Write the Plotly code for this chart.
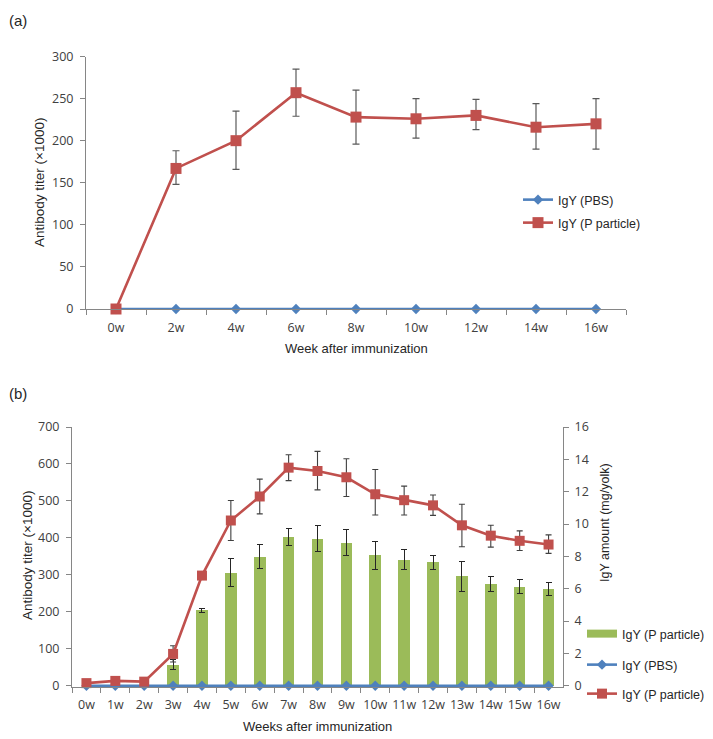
import plotly.graph_objects as go

# ---------------- Panel (a) data ----------------
weeks_a = ["0w", "2w", "4w", "6w", "8w", "10w", "12w", "14w", "16w"]
pbs_a = [0, 0, 0, 0, 0, 0, 0, 0, 0]
titer_a = [0, 167, 200, 257, 228, 226, 230, 216, 220]
titer_a_hi = [None, 188, 235, 285, 260, 250, 249, 244, 250]
titer_a_lo = [None, 148, 166, 229, 196, 203, 213, 190, 190]

# ---------------- Panel (b) data ----------------
weeks_b = ["0w", "1w", "2w", "3w", "4w", "5w", "6w", "7w", "8w", "9w",
           "10w", "11w", "12w", "13w", "14w", "15w", "16w"]
pbs_b = [0, 0, 0, 0, 0, 0, 0, 0, 0, 0, 0, 0, 0, 0, 0, 0, 0]
titer_b = [7, 13, 11, 86, 298, 447, 512, 590, 581, 564, 518, 502, 488, 434, 406, 392, 382]
titer_b_hi = [None, None, None, 108, 306, 501, 559, 625, 634, 614, 585, 540, 516, 491, 434, 419, 408]
titer_b_lo = [None, None, None, 64, 290, 393, 465, 555, 530, 512, 462, 462, 461, 376, 375, 366, 358]
igy_b = [None, None, None, 1.31, 4.66, 6.99, 7.95, 9.19, 9.10, 8.80, 8.07, 7.80, 7.63, 6.79, 6.32, 6.13, 5.97]
igy_b_hi = [None, None, None, 1.60, 4.80, 7.84, 8.72, 9.74, 9.91, 9.65, 8.91, 8.44, 8.05, 7.70, 6.75, 6.54, 6.38]
igy_b_lo = [None, None, None, 1.00, 4.53, 6.15, 7.25, 8.69, 8.29, 8.05, 7.16, 7.20, 7.20, 5.84, 5.84, 5.72, 5.56]


def plus(v, hi):
    return [None if (a is None or b is None) else b - a for a, b in zip(v, hi)]


def minus(v, lo):
    return [None if (a is None or b is None) else a - b for a, b in zip(v, lo)]


W, H = 713, 739
RED = "#C0504D"
BLUE = "#4F81BD"
GREEN = "#9BBB59"
AXC = "#868686"
TXT = "#404040"
TICKFONT = dict(family="Open Sans, Liberation Sans, Arial", size=12.5, color=TXT)
LEGFONT = dict(family="Liberation Sans, Arial", size=12.5, color="#262626")


def px_x(p):
    return p / W


def px_y(p):
    return 1 - p / H


fig = go.Figure()

# ---- Panel (a) ----
fig.add_trace(go.Scatter(
    x=weeks_a, y=pbs_a, mode="lines+markers", name="IgY (PBS)",
    line=dict(color=BLUE, width=2.6), marker=dict(symbol="diamond", size=8, color=BLUE),
    xaxis="x", yaxis="y", cliponaxis=False, legend="legend"))
fig.add_trace(go.Scatter(
    x=weeks_a, y=titer_a, mode="lines+markers", name="IgY (P particle)",
    line=dict(color=RED, width=2.6), marker=dict(symbol="square", size=11, color=RED),
    error_y=dict(type="data", symmetric=False, array=plus(titer_a, titer_a_hi),
                 arrayminus=minus(titer_a, titer_a_lo), color="#595959", thickness=1.2, width=3.5),
    xaxis="x", yaxis="y", cliponaxis=False, legend="legend2"))

# ---- Panel (b) ----
fig.add_trace(go.Bar(
    x=weeks_b, y=igy_b, name="IgY (P particle)", marker=dict(color=GREEN, line=dict(width=0)),
    width=0.4, showlegend=False,
    error_y=dict(type="data", symmetric=False, array=plus(igy_b, igy_b_hi),
                 arrayminus=minus(igy_b, igy_b_lo), color="#262626", thickness=1, width=3),
    xaxis="x2", yaxis="y2"))
# legend swatch for the bars (wide flat rectangle like the original)
fig.add_trace(go.Scatter(
    x=[None], y=[None], mode="lines", name="IgY (P particle)",
    line=dict(color=GREEN, width=8), xaxis="x2", yaxis="y2", legend="legend3",
    hoverinfo="skip"))
fig.add_trace(go.Scatter(
    x=weeks_b, y=pbs_b, mode="lines+markers", name="IgY (PBS)",
    line=dict(color=BLUE, width=2.6), marker=dict(symbol="diamond", size=8, color=BLUE),
    xaxis="x2", yaxis="y2", cliponaxis=False, legend="legend4"))
fig.add_trace(go.Scatter(
    x=weeks_b, y=titer_b, mode="lines+markers", name="IgY (P particle)",
    line=dict(color=RED, width=2.6), marker=dict(symbol="square", size=10, color=RED),
    error_y=dict(type="data", symmetric=False, array=plus(titer_b, titer_b_hi),
                 arrayminus=minus(titer_b, titer_b_lo), color="#404040", thickness=1.1, width=3),
    xaxis="x2", yaxis="y3", cliponaxis=False, legend="legend5"))

axis_common = dict(showgrid=False, zeroline=False, showline=True, linecolor=AXC, linewidth=1,
                   ticks="outside", ticklen=5, tickcolor=AXC, tickfont=TICKFONT, fixedrange=True,
                   automargin=False)

fig.update_layout(
    width=W, height=H, margin=dict(l=0, r=0, t=0, b=0, pad=0, autoexpand=False),
    paper_bgcolor="white", plot_bgcolor="white", bargap=0,
    xaxis=dict(axis_common, type="category", tickson="boundaries", range=[-0.5, 8.5],
               tickangle=0, ticklabelstandoff=7, domain=[px_x(86), px_x(626)], anchor="y"),
    yaxis=dict(axis_common, range=[0, 300], dtick=50, ticklabelstandoff=4,
               domain=[px_y(309), px_y(56.5)], anchor="x"),
    xaxis2=dict(axis_common, type="category", tickson="boundaries", range=[-0.5, 16.5],
                tickangle=0, ticklabelstandoff=6, domain=[px_x(72), px_x(563)], anchor="y2"),
    yaxis2=dict(axis_common, range=[-0.08, 16], dtick=2, side="right", ticklabelstandoff=3,
                domain=[px_y(687), px_y(427)], anchor="x2"),
    yaxis3=dict(axis_common, range=[-3.5, 700], dtick=100, side="left", overlaying="y2",
                ticklabelstandoff=4, anchor="x2"),
    showlegend=True,
)

leg_common = dict(bgcolor="rgba(0,0,0,0)", borderwidth=0, font=LEGFONT, xanchor="left",
                  yanchor="middle", itemwidth=30, tracegroupgap=0)
fig.update_layout(
    legend=dict(leg_common, x=px_x(518), y=px_y(200)),
    legend2=dict(leg_common, x=px_x(518), y=px_y(223)),
    legend3=dict(leg_common, x=px_x(582), y=px_y(634)),
    legend4=dict(leg_common, x=px_x(582), y=px_y(665)),
    legend5=dict(leg_common, x=px_x(582), y=px_y(694)),
)

ann_font = dict(family="Liberation Sans, Arial", size=12.5, color="#262626")
ytitle_font = dict(family="Liberation Sans, Arial", size=13.5, color="#262626")
annotations = [
    dict(text="(a)", x=px_x(7), y=px_y(20), xanchor="left", yanchor="middle",
         font=dict(family="Liberation Sans, Arial", size=15, color="#262626")),
    dict(text="(b)", x=px_x(7), y=px_y(393), xanchor="left", yanchor="middle",
         font=dict(family="Liberation Sans, Arial", size=15, color="#262626")),
    dict(text="Antibody titer (×1000)", x=px_x(40), y=px_y(183), textangle=-90,
         xanchor="center", yanchor="middle", font=ytitle_font),
    dict(text="Week after immunization", x=px_x(356), y=px_y(348),
         xanchor="center", yanchor="middle", font=dict(ann_font, size=13)),
    dict(text="Antibody titer (×1000)", x=px_x(27), y=px_y(556), textangle=-90,
         xanchor="center", yanchor="middle", font=ytitle_font),
    dict(text="IgY amount (mg/yolk)", x=px_x(605), y=px_y(523), textangle=-90,
         xanchor="center", yanchor="middle", font=ann_font),
    dict(text="Weeks after immunization", x=px_x(317), y=px_y(726),
         xanchor="center", yanchor="middle", font=dict(ann_font, size=13)),
]
for a in annotations:
    a.update(xref="paper", yref="paper", showarrow=False)
fig.update_layout(annotations=annotations)

post = ("var gd=document.getElementById('{plot_id}');"
        "gd.style.position='fixed';gd.style.top='0px';gd.style.left='0px';"
        "document.body.style.margin='0';document.body.style.overflow='hidden';"
        "document.documentElement.style.overflow='hidden';")
fig.write_html("out.html", config={"displayModeBar": False}, post_script=post)
